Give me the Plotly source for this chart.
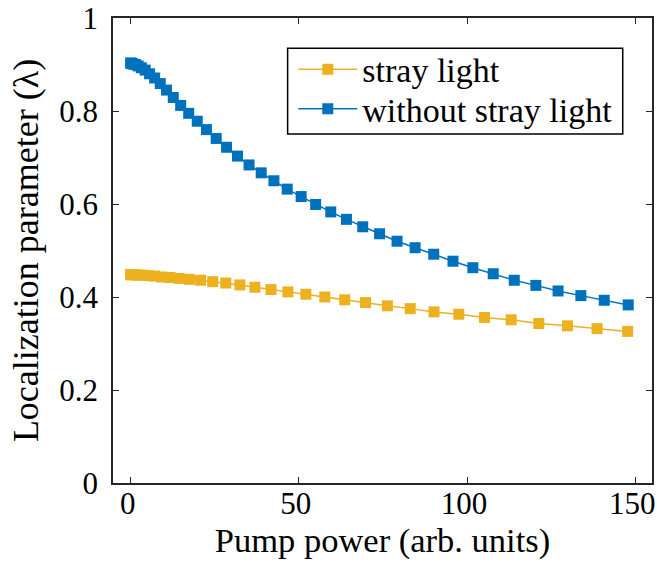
import plotly.graph_objects as go

# Pump power values (arb. units)
x_stray = [0.00, 0.14, 0.58, 1.30, 2.31, 3.61, 5.19, 7.07, 9.24, 11.69, 14.43,
           17.46, 20.78, 24.39, 28.28, 32.47, 36.94, 41.70, 46.75, 52.09, 57.72,
           63.64, 69.84, 76.33, 83.12, 90.19, 97.55, 105.19, 113.13, 121.35,
           129.87, 138.67, 147.76]
y_stray = [0.448, 0.448, 0.448, 0.448, 0.447, 0.447, 0.446, 0.445, 0.443, 0.442,
           0.440, 0.438, 0.436, 0.433, 0.430, 0.426, 0.421, 0.416, 0.411, 0.406,
           0.400, 0.394, 0.388, 0.381, 0.375, 0.368, 0.363, 0.356, 0.351, 0.343,
           0.338, 0.332, 0.326]

x_clean = [0.00, 0.09, 0.35, 0.79, 1.41, 2.20, 3.17, 4.31, 5.63, 7.13, 8.80,
           10.65, 12.67, 14.87, 17.25, 19.80, 22.53, 25.43, 28.51, 31.77, 35.20,
           38.81, 42.59, 46.55, 50.69, 55.00, 59.49, 64.15, 68.99, 74.01, 79.20,
           84.57, 90.11, 95.83, 101.73, 107.80, 114.05, 120.47, 127.07, 133.85,
           140.80, 147.93]
y_clean = [0.903, 0.903, 0.902, 0.901, 0.900, 0.897, 0.893, 0.888, 0.880, 0.871,
           0.859, 0.845, 0.829, 0.812, 0.795, 0.778, 0.760, 0.741, 0.722, 0.703,
           0.684, 0.667, 0.650, 0.632, 0.616, 0.599, 0.583, 0.567, 0.551, 0.536,
           0.520, 0.506, 0.492, 0.477, 0.463, 0.450, 0.436, 0.425, 0.413, 0.403,
           0.393, 0.383]

x_ticks = [0, 50, 100, 150]
y_ticks = [0, 0.2, 0.4, 0.6, 0.8, 1]
y_tick_text = ["0", "0.2", "0.4", "0.6", "0.8", "1"]

FONT = "Times New Roman, Liberation Serif, Tinos, DejaVu Serif, serif"
AX = "#262626"

fig = go.Figure()
fig.add_trace(go.Scatter(
    x=x_stray, y=y_stray, mode="lines+markers", name="stray light",
    line=dict(color="#EDB120", width=1.5),
    marker=dict(symbol="square", size=11, color="#EDB120", line=dict(width=0)),
    legend="legend",
))
fig.add_trace(go.Scatter(
    x=x_clean, y=y_clean, mode="lines+markers", name="without stray light",
    line=dict(color="#0072BD", width=1.5),
    marker=dict(symbol="square", size=11, color="#0072BD", line=dict(width=0)),
    legend="legend2",
))

axis_common = dict(
    showline=True, linecolor=AX, linewidth=1.5, mirror="allticks",
    ticks="inside", ticklen=6, tickwidth=1.2, tickcolor=AX,
    showgrid=False, zeroline=False, ticklabeloverflow="allow",
    tickfont=dict(family=FONT, size=31, color="black"),
)

fig.update_xaxes(
    range=[-5.25, 155], tickvals=x_ticks,
    title=dict(text="Pump power (arb. units)", font=dict(family=FONT, size=34.5, color="black"), standoff=8),
    ticklabelstandoff=-8, ticklabelshift=-3,
    **axis_common,
)
fig.update_yaxes(
    range=[0, 1], tickvals=y_ticks, ticktext=y_tick_text,
    title=dict(text="Localization parameter (λ)", font=dict(family=FONT, size=36, color="black"), standoff=10),
    ticklabelstandoff=7,
    **axis_common,
)

leg_common = dict(
    xanchor="left", yanchor="middle",
    bgcolor="rgba(0,0,0,0)", borderwidth=0,
    font=dict(family=FONT, size=34, color="black"),
    itemwidth=59,
)

fig.update_layout(
    width=657, height=568,
    margin=dict(l=113, r=5, t=18, b=85, autoexpand=False),
    paper_bgcolor="white", plot_bgcolor="white",
    showlegend=True,
    legend=dict(x=0.3345, y=0.889, **leg_common),
    legend2=dict(x=0.3345, y=0.804, **leg_common),
    shapes=[dict(
        type="rect", xref="paper", yref="paper",
        x0=0.324, x1=0.9457, y0=0.7505, y1=0.9348,
        line=dict(color="black", width=1.5), fillcolor="white", layer="above",
    )],
)

fig.write_html("out.html")
